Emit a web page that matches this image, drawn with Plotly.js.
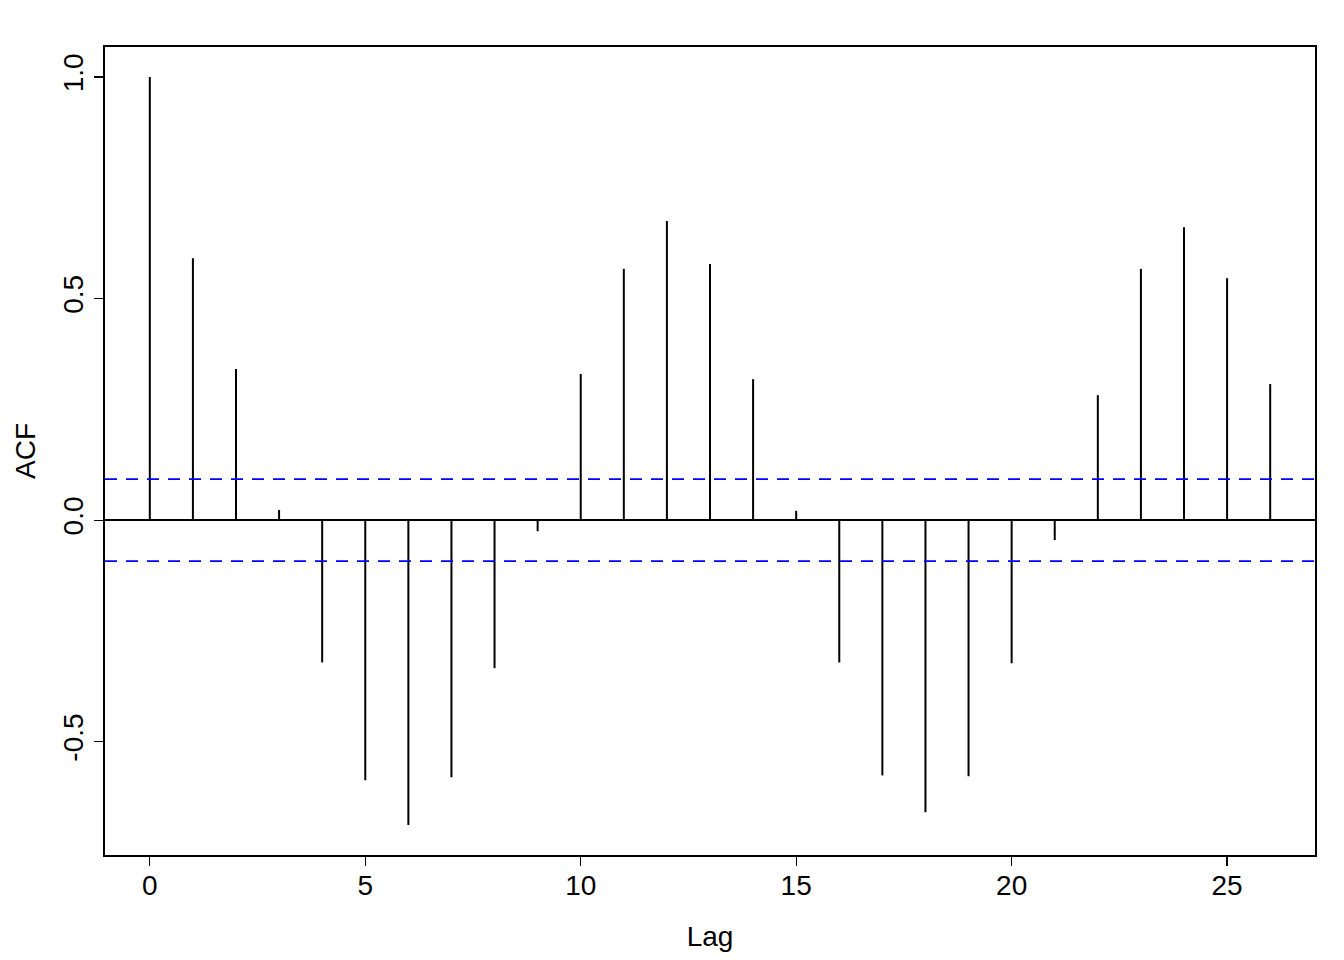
<!DOCTYPE html>
<html>
<head>
<meta charset="utf-8">
<script src="https://cdn.plot.ly/plotly-3.0.1.min.js"></script>
<style>html,body{margin:0;padding:0;background:#fff;}#chart{width:1344px;height:960px;}</style>
</head>
<body>
<div id="chart"></div>
<script>
const lags = [0,1,2,3,4,5,6,7,8,9,10,11,12,13,14,15,16,17,18,19,20,21,22,23,24,25,26];
const acfValues = [1.000,0.591,0.341,0.023,-0.321,-0.587,-0.688,-0.580,-0.334,-0.025,0.330,0.567,0.675,0.578,0.318,0.021,-0.321,-0.576,-0.659,-0.578,-0.323,-0.045,0.282,0.567,0.661,0.546,0.307];
const ciLevel = 0.0926;
const xTickVals = [0,5,10,15,20,25];
const yTickVals = [-0.5,0.0,0.5,1.0];
const yTickText = ['-0.5','0.0','0.5','1.0'];

const sx = [], sy = [];
lags.forEach((l,i)=>{ sx.push(l,l,null); sy.push(0,acfValues[i],null); });

const font = {family:'Liberation Sans, Arial, sans-serif', size:28, color:'#000'};

const traces = [{
  type:'scatter', mode:'lines', x:sx, y:sy,
  line:{color:'#000', width:2}, hoverinfo:'skip', showlegend:false
}];

const layout = {
  width:1344, height:960,
  margin:{l:105, r:29, t:47, b:105},
  paper_bgcolor:'#fff', plot_bgcolor:'#fff',
  font: font,
  showlegend:false,
  xaxis:{
    range:[-1.04,27.04], tickvals:xTickVals, ticks:'outside', ticklen:9, tickwidth:1.2, tickcolor:'#000',
    ticklabelstandoff:-4,
    showgrid:false, zeroline:false, showline:true, mirror:true, linecolor:'#000', linewidth:1.8,
    tickfont:font, title:{text:'Lag', font:font, standoff:26}
  },
  yaxis:{
    range:[-0.7556,1.0676], tickvals:yTickVals, ticktext:yTickText, tickangle:-90, ticks:'outside', ticklen:9, tickwidth:1.2, tickcolor:'#000',
    showgrid:false, zeroline:true, zerolinecolor:'#000', zerolinewidth:1.8,
    showline:true, mirror:true, linecolor:'#000', linewidth:1.8,
    tickfont:font, title:{text:'ACF', font:font, standoff:14}
  },
  shapes:[
    {type:'line', xref:'paper', x0:0, x1:1, yref:'y', y0:ciLevel, y1:ciLevel, line:{color:'#0000ff', width:1.6, dash:'12px,9px'}},
    {type:'line', xref:'paper', x0:0, x1:1, yref:'y', y0:-ciLevel, y1:-ciLevel, line:{color:'#0000ff', width:1.6, dash:'12px,9px'}}
  ]
};

Plotly.newPlot('chart', traces, layout, {displayModeBar:false, staticPlot:true});
</script>
</body>
</html>
